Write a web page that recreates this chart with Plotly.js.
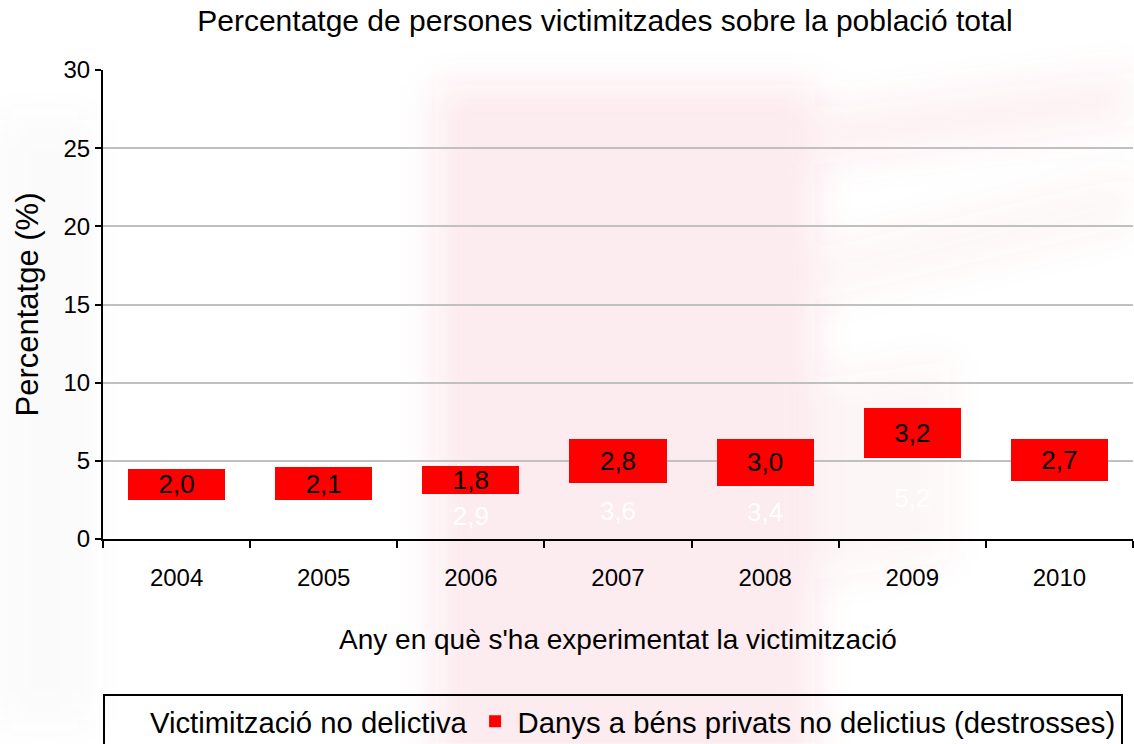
<!DOCTYPE html>
<html>
<head>
<meta charset="utf-8">
<script src="https://cdn.plot.ly/plotly-3.0.1.min.js"></script>
<style>html,body{margin:0;padding:0;background:#fff;}#chart{width:1134px;height:744px;}</style>
</head>
<body>
<div id="chart"></div>
<script>
var years = ['2004','2005','2006','2007','2008','2009','2010'];
var victimitzacioNoDelictiva = [2.5, 2.5, 2.9, 3.6, 3.4, 5.2, 3.7];
var danysBensPrivats = [2.0, 2.1, 1.8, 2.8, 3.0, 3.2, 2.7];
var seriesNames = ['Victimització no delictiva', 'Danys a béns privats no delictius (destrosses)'];

var FONT = 'Liberation Sans, Arial, sans-serif';

// faint blurred watermark behind the chart (decorative)
var wm = "<svg xmlns='http://www.w3.org/2000/svg' width='1134' height='744' viewBox='0 0 1134 744'>" +
  "<defs><filter id='b' x='-30%' y='-30%' width='160%' height='160%'><feGaussianBlur stdDeviation='18'/></filter></defs>" +
  "<g filter='url(#b)' fill='rgb(225,60,85)'>" +
  "<rect x='435' y='85' width='380' height='720' opacity='0.10'/>" +
  "<path d='M815 110 L1134 70 L1134 125 L815 165 Z' opacity='0.07'/>" +
  "<path d='M815 250 L1134 175 L1134 225 L815 300 Z' opacity='0.05'/>" +
  "<path d='M815 380 L950 360 L950 560 L815 580 Z' opacity='0.05'/>" +
  "</g>" +
  "<g filter='url(#b)' fill='rgb(120,120,120)'>" +
  "<rect x='0' y='120' width='90' height='600' opacity='0.04'/>" +
  "</g></svg>";
var wmSrc = 'data:image/svg+xml;charset=utf-8,' + encodeURIComponent(wm);

var traces = [
  {
    type: 'bar', name: seriesNames[0], x: years, y: victimitzacioNoDelictiva,
    marker: {color: 'rgba(255,255,255,0)'},
    texttemplate: '%{y:.1f}', textposition: 'inside', insidetextanchor: 'middle', textangle: 0,
    textfont: {color: '#ffffff', size: 26, family: FONT},
    constraintext: 'none', hoverinfo: 'skip'
  },
  {
    type: 'bar', name: seriesNames[1], x: years, y: danysBensPrivats,
    marker: {color: '#ff0000'},
    texttemplate: '%{y:.1f}', textposition: 'inside', insidetextanchor: 'middle', textangle: 0,
    textfont: {color: '#000000', size: 26, family: FONT},
    constraintext: 'none'
  }
];

var layout = {
  width: 1134, height: 744,
  barmode: 'stack', bargap: 0.34,
  separators: ',.',
  paper_bgcolor: '#ffffff', plot_bgcolor: 'rgba(0,0,0,0)',
  font: {family: FONT, color: '#000000', size: 24},
  margin: {l: 103, r: 1, t: 70, b: 205, autoexpand: false},
  title: {text: 'Percentatge de persones victimitzades sobre la població total', xref: 'container', x: 0.5335, xanchor: 'center', yref: 'container', y: 0.972, yanchor: 'middle', font: {size: 30, family: FONT}},
  images: [{source: wmSrc, xref: 'paper', yref: 'paper', x: -0.1, y: 1.1493, sizex: 1.101, sizey: 1.586, sizing: 'stretch', xanchor: 'left', yanchor: 'top', layer: 'below', opacity: 1}],
  xaxis: {
    type: 'category', tickson: 'boundaries', ticks: 'outside', ticklen: 7, tickwidth: 2, tickcolor: '#000',
    showline: true, linecolor: '#000', linewidth: 2, showgrid: false,
    tickfont: {size: 24, family: FONT}, ticklabelstandoff: 16,
    title: {text: 'Any en què s\'ha experimentat la victimització', font: {size: 28, family: FONT}, standoff: 40}
  },
  yaxis: {
    range: [0, 30], dtick: 5, ticks: 'outside', ticklen: 6, tickwidth: 2, tickcolor: '#000',
    showline: true, linecolor: '#000', linewidth: 2,
    showgrid: true, gridcolor: '#c0c0c0', gridwidth: 2, zeroline: false,
    tickfont: {size: 24, family: FONT},
    title: {text: 'Percentatge (%)', font: {size: 31, family: FONT}, standoff: 16}
  },
  legend: {
    orientation: 'h', x: -0.0001, xanchor: 'left', y: -0.33, yanchor: 'top',
    bordercolor: '#000', borderwidth: 2, bgcolor: 'rgba(255,255,255,0)', itemwidth: 35,
    font: {size: 29.3, family: FONT}, traceorder: 'normal'
  },
  showlegend: true
};

Plotly.newPlot('chart', traces, layout, {displayModeBar: false, staticPlot: true});
</script>
</body>
</html>
